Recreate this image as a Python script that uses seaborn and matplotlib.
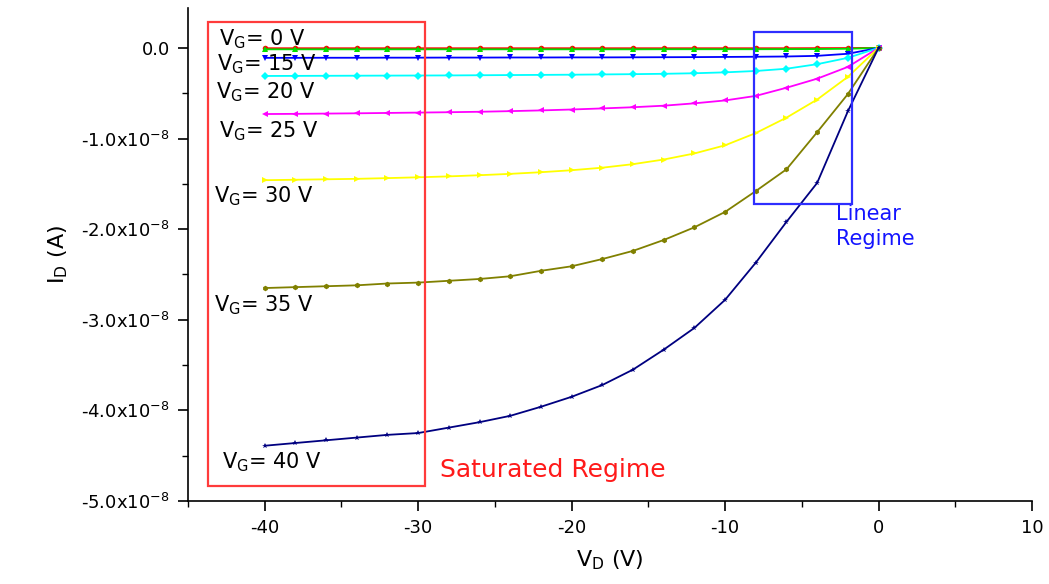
import numpy as np
import pandas as pd
import matplotlib
matplotlib.use("Agg")
import matplotlib.pyplot as plt
from matplotlib.patches import Rectangle
from matplotlib.ticker import FuncFormatter, MultipleLocator
import seaborn as sns

# Drain voltage sweep (V)
vd = [-40, -38, -36, -34, -32, -30, -28, -26, -24, -22, -20,
      -18, -16, -14, -12, -10, -8, -6, -4, -2, 0]

# Drain current for each gate voltage, in units of 1e-8 A
id_vg0 = [-0.004, -0.004, -0.004, -0.004, -0.004, -0.004, -0.004, -0.004, -0.004, -0.004, -0.004,
          -0.004, -0.004, -0.004, -0.004, -0.004, -0.004, -0.004, -0.003, -0.002, 0.0]
id_vg10 = [-0.016, -0.016, -0.016, -0.016, -0.016, -0.016, -0.016, -0.016, -0.016, -0.016, -0.016,
           -0.016, -0.016, -0.015, -0.015, -0.015, -0.015, -0.014, -0.013, -0.010, 0.0]
id_vg15 = [-0.110, -0.110, -0.109, -0.109, -0.108, -0.108, -0.107, -0.107, -0.106, -0.106, -0.105,
           -0.105, -0.104, -0.103, -0.102, -0.100, -0.098, -0.095, -0.088, -0.065, 0.0]
id_vg20 = [-0.310, -0.309, -0.308, -0.307, -0.306, -0.305, -0.304, -0.302, -0.300, -0.298, -0.296,
           -0.293, -0.290, -0.286, -0.280, -0.270, -0.255, -0.230, -0.180, -0.110, 0.0]
id_vg25 = [-0.730, -0.728, -0.725, -0.722, -0.718, -0.714, -0.710, -0.705, -0.698, -0.690, -0.680,
           -0.668, -0.655, -0.638, -0.612, -0.580, -0.530, -0.440, -0.340, -0.210, 0.0]
id_vg30 = [-1.460, -1.455, -1.450, -1.445, -1.437, -1.428, -1.418, -1.405, -1.390, -1.372, -1.350,
           -1.322, -1.283, -1.232, -1.165, -1.075, -0.940, -0.770, -0.570, -0.320, 0.0]
id_vg35 = [-2.65, -2.64, -2.63, -2.62, -2.60, -2.59, -2.57, -2.55, -2.52, -2.46, -2.41,
           -2.33, -2.24, -2.12, -1.98, -1.81, -1.58, -1.34, -0.93, -0.51, 0.0]
id_vg40 = [-4.39, -4.36, -4.33, -4.30, -4.27, -4.25, -4.19, -4.13, -4.06, -3.96, -3.85,
           -3.72, -3.55, -3.33, -3.09, -2.78, -2.37, -1.92, -1.49, -0.70, 0.0]

# Drawing order: the red trace sits underneath the green markers
gate_levels = ["0", "10", "15", "20", "25", "30", "35", "40"]
curves = [id_vg0, id_vg10, id_vg15, id_vg20, id_vg25, id_vg30, id_vg35, id_vg40]
colors = ["#FF0000", "#00E000", "#0000FF", "#00FFFF", "#FF00FF", "#FFFF00", "#808000", "#000080"]
markers = ["o", "^", "v", "D", "<", ">", "h", "*"]

# Curve annotations: gate voltage text and its anchor (V, 1e-8 A)
label_texts = ["0", "15", "20", "25", "30", "35", "40"]
label_x = [-43.0, -43.1, -43.2, -43.0, -43.3, -43.3, -42.8]
label_y = [0.03, -0.25, -0.56, -0.99, -1.71, -2.91, -4.64]

rows = []
for lvl, cur in zip(gate_levels, curves):
    for v, i in zip(vd, cur):
        rows.append({"VD": v, "ID": i * 1e-8, "VG": lvl})
df = pd.DataFrame(rows)

sns.set_style("ticks")
plt.rcParams["font.family"] = ["DejaVu Sans"]
plt.rcParams["mathtext.fontset"] = "dejavusans"

fig = plt.figure(figsize=(10.49, 5.84), dpi=100)
ax = fig.add_axes([0.1792, 0.1421, 0.8046, 0.8442])

sns.lineplot(data=df, x="VD", y="ID", hue="VG", style="VG",
             hue_order=gate_levels, style_order=gate_levels,
             palette=dict(zip(gate_levels, colors)),
             markers=dict(zip(gate_levels, markers)),
             dashes=False, sort=False, legend=False,
             linewidth=1.3, markersize=4, markeredgewidth=0, ax=ax)

ax.set_xlim(-45, 10)
ax.set_ylim(-5e-8, 0.44e-8)
ax.xaxis.set_major_locator(MultipleLocator(10))
ax.xaxis.set_minor_locator(MultipleLocator(5))
ax.yaxis.set_major_locator(MultipleLocator(1e-8))
ax.yaxis.set_minor_locator(MultipleLocator(0.5e-8))


def amp_fmt(val, pos):
    m = val / 1e-8
    if abs(m) < 1e-9:
        return "0.0"
    return f"{m:.1f}x10$^{{\\mathregular{{-8}}}}$"


ax.yaxis.set_major_formatter(FuncFormatter(amp_fmt))
ax.xaxis.set_major_formatter(FuncFormatter(lambda v, p: f"{v:.0f}"))

for s in ["top", "right"]:
    ax.spines[s].set_visible(False)
for s in ["left", "bottom"]:
    ax.spines[s].set_linewidth(1.2)
    ax.spines[s].set_color("black")

ax.tick_params(which="major", direction="out", length=7, width=1.2, labelsize=13, pad=6,
               colors="black", labelcolor="black")
ax.tick_params(which="minor", direction="out", length=4, width=1.0, colors="black")

ax.set_xlabel(r"V$_\mathregular{D}$ (V)", fontsize=16, labelpad=8, color="black")
ax.set_ylabel(r"I$_\mathregular{D}$ (A)", fontsize=16, labelpad=8, color="black")

for t, x, y in zip(label_texts, label_x, label_y):
    ax.text(x, y * 1e-8, r"V$_\mathregular{G}$= " + t + " V", fontsize=15,
            ha="left", va="baseline", color="black")

# Regime boxes
ax.add_patch(Rectangle((-43.7, -4.83e-8), 14.15, 5.117e-8, fill=False,
                       edgecolor="#FF3B3B", linewidth=1.6, zorder=5))
ax.add_patch(Rectangle((-8.1, -1.72e-8), 6.35, 1.897e-8, fill=False,
                       edgecolor="#2E2EFF", linewidth=1.6, zorder=5))

ax.text(-28.6, -4.73e-8, "Saturated Regime", color="#FF1A1A", fontsize=18,
        ha="left", va="baseline")
ax.text(-2.8, -1.90e-8, "Linear", color="#1414FF", fontsize=15,
        ha="left", va="baseline")
ax.text(-2.8, -2.18e-8, "Regime", color="#1414FF", fontsize=15,
        ha="left", va="baseline")

fig.savefig("out.png", dpi=100, facecolor="white")
